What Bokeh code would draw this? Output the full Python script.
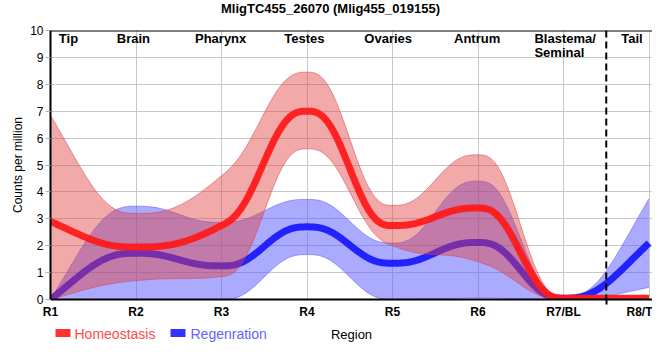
import numpy as np
from bokeh.plotting import figure
from bokeh.layouts import column
from bokeh.models import Range1d, FixedTicker, Span
from bokeh.core.properties import value
from bokeh.embed import file_html
from bokeh.resources import INLINE

# ---------------- data ----------------
title = "MligTC455_26070 (Mlig455_019155)"
region_ticks = ["R1", "R2", "R3", "R4", "R5", "R6", "R7/BL", "R8/T"]
region_pos = [1, 2, 3, 4, 5, 6, 7, 8]

homeo = [2.9, 1.95, 2.75, 7.0, 2.75, 3.4, 0.05, 0.05]
homeo_hi = [6.85, 3.2, 4.6, 8.45, 3.5, 5.38, 0.12, 0.12]
homeo_lo = [0.0, 0.7, 0.85, 5.6, 2.0, 1.4, 0.0, 0.0]

regen = [0.0, 1.72, 1.25, 2.7, 1.35, 2.12, 0.05, 2.1]
regen_hi = [0.0, 3.47, 2.87, 3.72, 2.1, 4.4, 0.1, 3.75]
regen_lo = [0.0, 0.0, 0.0, 1.67, 0.0, 0.05, 0.0, 0.45]

series_names = ["Homeostasis", "Regenration"]
region_names = ["Tip", "Brain", "Pharynx", "Testes", "Ovaries", "Antrum", "Tail"]
region_name_x = [1.21, 1.97, 2.99, 3.97, 4.95, 5.99, 7.8]
blastema_lines = ["Blastema/", "Seminal"]
boundary_x = 7.5

FONT = "Liberation Sans"
W = 652
LEFT = 50


def smooth(xs, ys, per=60):
    """Render a series as a smooth monotone curve (quintic Hermite, monotone slopes)."""
    xs = np.asarray(xs, float)
    ys = np.asarray(ys, float)
    n = len(xs)
    h = np.diff(xs)
    s = np.diff(ys) / h
    m = np.zeros(n)
    for i in range(1, n - 1):
        s0, s1 = s[i - 1], s[i]
        if s0 * s1 <= 0:
            m[i] = 0.0
        else:
            p = (s0 * h[i] + s1 * h[i - 1]) / (h[i - 1] + h[i])
            m[i] = (np.sign(s0) + np.sign(s1)) * min(abs(s0), abs(s1), 0.5 * abs(p))
    m[0] = (3 * s[0] - m[1]) / 2
    m[-1] = (3 * s[-1] - m[-2]) / 2
    ox, oy = [], []
    for i in range(n - 1):
        t = np.linspace(0, 1, per, endpoint=(i == n - 2))
        H0 = 1 - 10 * t**3 + 15 * t**4 - 6 * t**5
        H1 = t - 6 * t**3 + 8 * t**4 - 3 * t**5
        H2 = -4 * t**3 + 7 * t**4 - 3 * t**5
        H5 = 10 * t**3 - 15 * t**4 + 6 * t**5
        ox.append(xs[i] + t * h[i])
        oy.append(H0 * ys[i] + H1 * h[i] * m[i] + H2 * h[i] * m[i + 1] + H5 * ys[i + 1])
    return np.concatenate(ox), np.concatenate(oy)


def blank(height):
    # frame aligned with the main plot's frame; x in page pixels
    f = figure(width=W, height=height, x_range=Range1d(LEFT, W), y_range=Range1d(0, height),
               output_backend="svg", toolbar_location=None,
               x_axis_type=None, y_axis_type=None,
               min_border_left=LEFT, min_border_right=0, min_border_top=0, min_border_bottom=0)
    f.outline_line_color = None
    return f


# ---------------- title strip ----------------
top = blank(22)
top.text(x=[330], y=[14], text=[title], text_font=value(FONT), text_font_size="13px",
         text_font_style="bold", text_align="center", text_baseline="middle",
         text_color="black")

# ---------------- main plot ----------------
p = figure(
    frame_width=W - LEFT, frame_height=269,
    x_range=Range1d(1, 1 + (W - LEFT) / 85.5), y_range=Range1d(0, 10),
    output_backend="svg", toolbar_location=None,
    min_border_left=LEFT, min_border_right=0, min_border_top=8, min_border_bottom=20,
)
p.outline_line_color = None

p.xaxis.ticker = FixedTicker(ticks=region_pos, minor_ticks=[boundary_x])
p.xaxis.major_label_overrides = {pos: lab for pos, lab in zip(region_pos, region_ticks)}
p.xaxis.major_tick_line_color = None
p.xaxis.major_tick_out = 0
p.xaxis.major_tick_in = 0
p.xaxis.minor_tick_line_color = "black"
p.xaxis.minor_tick_line_width = 2
p.xaxis.minor_tick_out = 5
p.xaxis.minor_tick_in = 0
p.xaxis.axis_line_color = "black"
p.xaxis.axis_line_width = 2
p.xaxis.major_label_standoff = 0
p.xaxis.major_label_text_font = FONT
p.xaxis.major_label_text_font_size = "12px"
p.xaxis.major_label_text_font_style = "bold"
p.xaxis.major_label_text_color = "black"

p.yaxis.ticker = FixedTicker(ticks=list(range(0, 11)))
p.yaxis.axis_line_color = "black"
p.yaxis.axis_line_width = 2
p.yaxis.major_tick_out = 5
p.yaxis.major_tick_in = 0
p.yaxis.major_tick_line_color = "#b0b0b0"
p.yaxis.minor_tick_line_color = None
p.yaxis.major_label_standoff = 2
p.yaxis.major_label_text_font = FONT
p.yaxis.major_label_text_font_size = "12px"
p.yaxis.major_label_text_color = "black"
p.yaxis.axis_label = "Counts per million"
p.yaxis.axis_label_text_font = FONT
p.yaxis.axis_label_text_font_size = "12px"
p.yaxis.axis_label_text_font_style = "normal"
p.yaxis.axis_label_text_color = "black"
p.yaxis.axis_label_standoff = 2

p.xgrid.grid_line_color = "#c8c8c8"
p.ygrid.grid_line_color = "#c8c8c8"

# regeneration band + line
xb, yb_hi = smooth(region_pos, regen_hi)
_, yb_lo = smooth(region_pos, regen_lo)
_, yb = smooth(region_pos, regen)
p.varea(x=xb, y1=yb_lo, y2=yb_hi, fill_color="#5555ff", fill_alpha=0.5)
p.line(xb, yb_hi, line_color="#5555ff", line_alpha=0.5, line_width=1)
p.line(xb, yb_lo, line_color="#5555ff", line_alpha=0.5, line_width=1)
p.line(xb, yb, line_color="#1a1aff", line_width=7, line_alpha=0.95)

# homeostasis band + line
xr, yr_hi = smooth(region_pos, homeo_hi)
_, yr_lo = smooth(region_pos, homeo_lo)
_, yr = smooth(region_pos, homeo)
p.varea(x=xr, y1=yr_lo, y2=yr_hi, fill_color="#e04040", fill_alpha=0.45)
p.line(xr, yr_hi, line_color="#e04040", line_alpha=0.5, line_width=1)
p.line(xr, yr_lo, line_color="#e04040", line_alpha=0.5, line_width=1)
p.line(xr, yr, line_color="#ff1a1a", line_width=7, line_alpha=0.95)

# boundary and frame top
p.add_layout(Span(location=boundary_x, dimension="height", line_color="black",
                  line_width=2, line_dash="7 4"))
p.add_layout(Span(location=10, dimension="width", line_color="black", line_width=2))

# region names along the top
p.text(x=region_name_x, y=[9.97] * len(region_name_x), text=region_names,
       text_font=value(FONT), text_font_size="13px", text_font_style="bold",
       text_align="center", text_baseline="top", text_color="black")
p.text(x=[6.66, 6.66], y=[9.97, 9.45], text=blastema_lines,
       text_font=value(FONT), text_font_size="13px", text_font_style="bold",
       text_align="left", text_baseline="top", text_color="black")

# ---------------- legend / axis-title strip ----------------
bot = blank(25)
bot.rect(x=[62.5, 177.5], y=[13.5, 13.5], width=15, height=8,
         fill_color=["#ff3333", "#3333ff"], line_color=None)
bot.text(x=[74, 190], y=[13, 13], text=series_names, text_font=value(FONT),
         text_font_size="14px", text_align="left", text_baseline="middle",
         text_color=["#ff4a4a", "#6464ff"])
bot.text(x=[351], y=[12], text=["Region"], text_font=value(FONT),
         text_font_size="13px", text_align="center", text_baseline="middle",
         text_color="black")

layout = column(top, p, bot, spacing=0)
open("out.html", "w").write(file_html(layout, INLINE))
